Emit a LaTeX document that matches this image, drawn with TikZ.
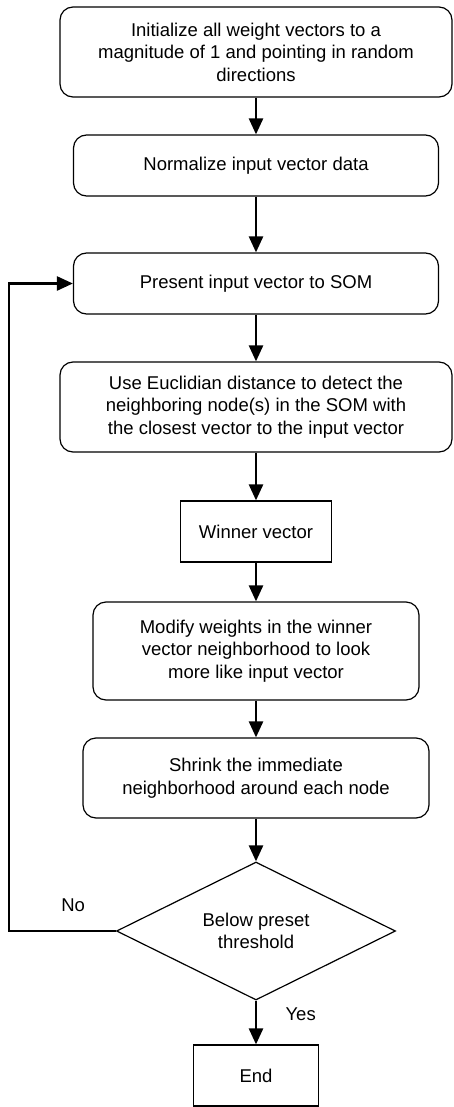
\documentclass[tikz,border=0pt]{standalone}
\usepackage{fontspec}
\setmainfont{Liberation Sans}
\usetikzlibrary{shapes.geometric,arrows.meta}

\begin{document}
\begin{tikzpicture}[x=1pt,y=-1pt,font=\fontsize{18.5}{22.5}\selectfont]
                \tikzstyle{box node}=[draw,rounded corners=13pt,line width=1.2pt,align=center,inner sep=0pt]
                \tikzstyle{plain node}=[draw,line width=1.2pt,align=center,inner sep=0pt]
                \tikzstyle{test node}=[draw,diamond,aspect=2,line width=1.2pt,align=center,inner sep=0pt,minimum width=279pt,minimum height=138pt]
                \tikzstyle{flow}=[line width=2.5pt,-{Triangle[length=16pt,width=14pt]}]
                \useasboundingbox (0,0) rectangle (453,1107);
                \node(init) at (256,52)[box node,minimum width=392pt,minimum height=90pt]{Initialize all weight vectors to a\\magnitude of 1 and pointing in random\\directions};
                \node(norm) at (256,165.5)[box node,minimum width=365pt,minimum height=61pt]{Normalize input vector data};
                \node(som) at (256,283.5)[box node,minimum width=365pt,minimum height=61pt]{Present input vector to SOM};
                \node(dist) at (256,407)[box node,minimum width=392pt,minimum height=90pt]{Use Euclidian distance to detect the\\neighboring node(s) in the SOM with\\the closest vector to the input vector};
                \node(win) at (256,531.5)[plain node,minimum width=151pt,minimum height=61pt]{Winner vector};
                \node(mod) at (256,651)[box node,minimum width=326pt,minimum height=98pt]{Modify weights in the winner\\vector neighborhood to look\\more like input vector};
                \node(shrink) at (256,778)[box node,minimum width=346pt,minimum height=80pt]{Shrink the immediate\\neighborhood around each node};
                \node(test) at (256,931)[test node]{Below preset\\threshold};
                \node(end) at (256,1075.5)[plain node,minimum width=125pt,minimum height=61pt]{End};
                \coordinate(loop) at (9,0);
                \draw[flow] (init) -- (norm);
                \draw[flow] (norm) -- (som);
                \draw[flow] (som) -- (dist);
                \draw[flow] (dist) -- (win);
                \draw[flow] (win) -- (mod);
                \draw[flow] (mod) -- (shrink);
                \draw[flow] (shrink) -- (test);
                \draw[flow] (test) -- node[pos=0.3,right=25pt]{Yes} (end);
                \draw[flow] (test.west) -- node[pos=0.4,above=15pt]{No} (test.west -| loop) |- (som.west);
            \end{tikzpicture}
\end{document}
